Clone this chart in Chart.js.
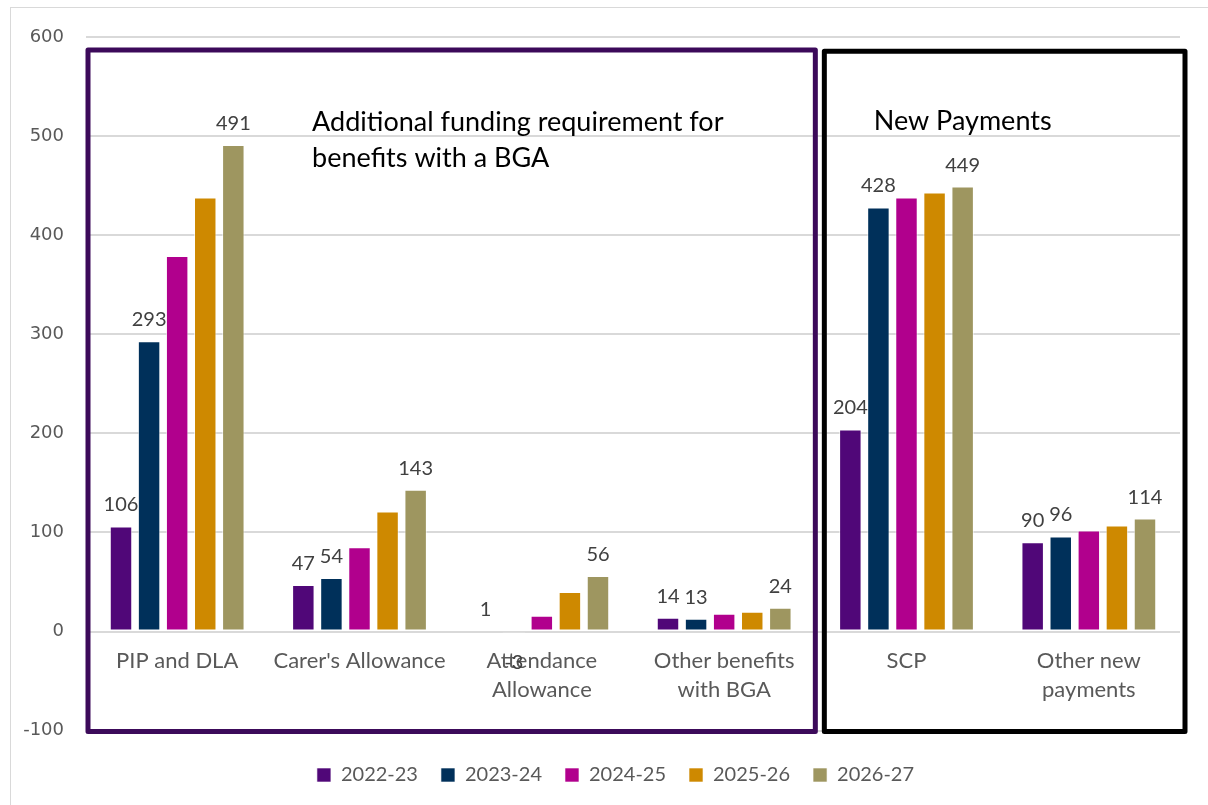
<!DOCTYPE html>
<html lang="en">
<head>
    <meta charset="UTF-8">
    <title>Additional funding requirement</title>
    <script src="https://cdn.jsdelivr.net/npm/chart.js@4.4.0/dist/chart.umd.min.js"></script>
    <style>
        body { margin: 0; background: #fff; }
        #frame { position: absolute; left: 10px; top: 7px; border-left: 1px solid #d9d9d9; border-top: 1px solid #d9d9d9; }
        canvas { display: block; }
    </style>
</head>
<body>
<div id="frame"><canvas id="myChart" width="1197" height="797"></canvas></div>

<script type="text/javascript">
    var categories = [
        "PIP and DLA",
        "Carer's Allowance",
        ["Attendance", "Allowance"],
        ["Other benefits", "with BGA"],
        "SCP",
        ["Other new", "payments"]
    ];
    var years = ["2022-23", "2023-24", "2024-25", "2025-26", "2026-27"];
    var values2022 = [106, 47, 1, 14, 204, 90];
    var values2023 = [293, 54, -3, 13, 428, 96];
    var values2024 = [379, 85, 16, 18, 438, 102];
    var values2025 = [438, 121, 40, 20, 443, 107];
    var values2026 = [491, 143, 56, 24, 449, 114];
    var yTicks = [-100, 0, 100, 200, 300, 400, 500, 600];
    // only these years get a value label in the original
    var showLabel = [true, true, false, false, true];
    var colours = ["#500778", "#00305a", "#b1008d", "#ce8900", "#9e9660"];

    var allValues = [values2022, values2023, values2024, values2025, values2026];

    var textFont = "Lato, 'Open Sans', sans-serif";

    // value labels, the two boxes and their headings
    var overlay = {
        id: 'overlay',
        afterUpdate: function(chart) {
            // legend sits a little right of centre in the original
            chart.legend.left += 20;
            chart.legend.right += 20;
            chart.legend.adjustHitBoxes();
        },
        afterDatasetsDraw: function(chart) {
            var ctx = chart.ctx;
            var x = chart.scales.x, y = chart.scales.y;
            ctx.save();
            ctx.font = "20px " + textFont;
            ctx.fillStyle = "#404040";
            ctx.textAlign = "center";
            chart.data.datasets.forEach(function(ds, i) {
                if (!showLabel[i]) return;
                chart.getDatasetMeta(i).data.forEach(function(bar, j) {
                    var v = ds.data[j];
                    if (v >= 0) {
                        ctx.textBaseline = "alphabetic";
                        ctx.fillText(v, bar.x, bar.y - 15);
                    } else {
                        ctx.textBaseline = "top";
                        ctx.fillText(v, bar.x, bar.y + 18);
                    }
                });
            });

            ctx.lineWidth = 5;
            ctx.lineJoin = "round";
            var split = x.getPixelForValue(3.5);
            var top = y.getPixelForValue(587);
            var bottom = y.getPixelForValue(-101);
            ctx.strokeStyle = "#3c0a5a";
            ctx.strokeRect(x.left + 2, top, split - (x.left + 2), bottom - top);
            ctx.strokeStyle = "#000";
            var top2 = y.getPixelForValue(585.5);
            ctx.strokeRect(split + 9, top2, x.right + 5 - (split + 9), bottom - top2);

            ctx.font = "27px " + textFont;
            ctx.fillStyle = "#000";
            ctx.textAlign = "left";
            ctx.textBaseline = "middle";
            ctx.fillText("Additional funding requirement for", x.getPixelForValue(0.74), y.getPixelForValue(514));
            ctx.fillText("benefits with a BGA", x.getPixelForValue(0.74), y.getPixelForValue(478));
            ctx.fillText("New Payments", x.getPixelForValue(3.82), y.getPixelForValue(515));
            ctx.restore();
        }
    };

    var ctx = document.getElementById('myChart').getContext('2d');
    var chart = new Chart(ctx, {
        type: 'bar',
        data: {
            labels: categories,
            datasets: years.map(function(yr, i) {
                return {
                    label: yr,
                    data: allValues[i],
                    backgroundColor: colours[i],
                    borderColor: 'rgba(255,255,255,0.6)',
                    borderWidth: 1,
                    borderSkipped: false,
                    categoryPercentage: 0.77,
                    barPercentage: 0.8
                };
            })
        },
        options: {
            responsive: false,
            animation: false,
            layout: { padding: { left: 0, right: 28, top: 29, bottom: 10 } },
            plugins: {
                tooltip: { enabled: false },
                legend: {
                    position: 'bottom',
                    // empty title only used as a spacer above the legend items
                    title: { display: true, text: ' ', font: { size: 2 }, padding: { top: 0, bottom: 9 } },
                    labels: {
                        boxWidth: 14,
                        boxHeight: 14,
                        padding: 23,
                        color: '#595959',
                        font: { family: textFont, size: 20 }
                    }
                }
            },
            scales: {
                x: {
                    position: { y: 0 },
                    grid: { display: false, drawTicks: false },
                    border: { display: false },
                    ticks: {
                        color: '#595959',
                        padding: 15,
                        font: { family: textFont, size: 22, lineHeight: 1.3 },
                        maxRotation: 0,
                        autoSkip: false
                    }
                },
                y: {
                    min: -100,
                    max: 600,
                    afterBuildTicks: function(axis) {
                        axis.ticks = yTicks.map(function(v) { return { value: v }; });
                    },
                    afterFit: function(axis) {
                        axis.width = 75;
                        axis.paddingTop = 0;
                        axis.paddingBottom = 0;
                    },
                    grid: { color: '#d9d9d9', lineWidth: 2, drawTicks: false },
                    border: { display: false },
                    ticks: {
                        color: '#595959',
                        padding: 22,
                        font: { family: "'DejaVu Sans', sans-serif", size: 18 }
                    }
                }
            }
        },
        plugins: [overlay]
    });
</script>
</body>
</html>
